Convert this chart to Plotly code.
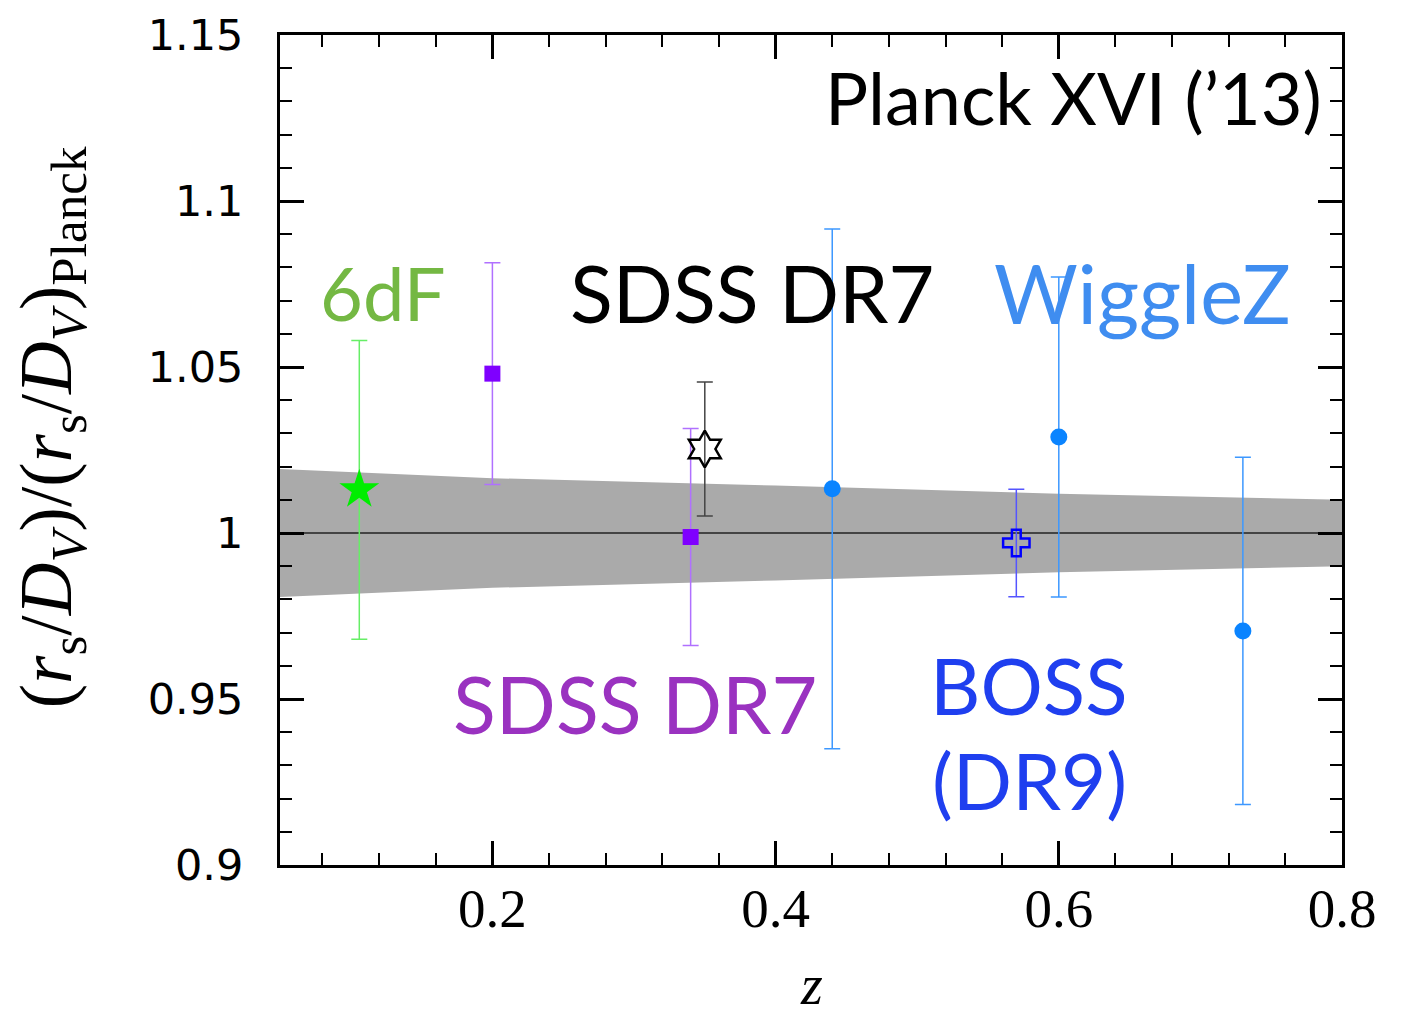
import plotly.graph_objects as go

# ---- data ----
band_z = [0.05, 0.2, 0.4, 0.6, 0.8]
band_err = [0.0193, 0.0165, 0.0143, 0.0118, 0.0100]

sixdf_z = [0.106]
sixdf_v = [1.013]
sixdf_e = [0.045]

sdss_z = [0.20, 0.34]
sdss_v = [1.048, 0.9988]
sdss_e = [0.0334, 0.0327]

sdssr_z = [0.35]
sdssr_v = [1.0253]
sdssr_e = [0.0202]

boss_z = [0.57]
boss_v = [0.997]
boss_e = [0.0162]

wig_z = [0.44, 0.60, 0.73]
wig_v = [1.0133, 1.0289, 0.9705]
wig_e = [0.0783, 0.0482, 0.0523]

x_ticks = [0.2, 0.4, 0.6, 0.8]
x_ticklabels = ["0.2", "0.4", "0.6", "0.8"]
y_ticks = [0.9, 0.95, 1.0, 1.05, 1.1, 1.15]
y_ticklabels = ["0.9", "0.95", "1", "1.05", "1.1", "1.15"]

fig = go.Figure()

# Planck band
upper = [1 + e for e in band_err]
lower = [1 - e for e in band_err]
fig.add_trace(go.Scatter(x=band_z + band_z[::-1], y=upper + lower[::-1],
                         fill="toself", fillcolor="#aaaaaa", line=dict(width=0),
                         mode="lines", hoverinfo="skip", showlegend=False))
fig.add_trace(go.Scatter(x=[0.05, 0.8], y=[1, 1], mode="lines",
                         line=dict(color="#222222", width=1.5), showlegend=False))

def pts(x, y, e, sym, size, col, ecol, lw=0):
    fig.add_trace(go.Scatter(
        x=x, y=y, mode="markers", showlegend=False,
        error_y=dict(type="data", array=e, color=ecol, thickness=1.5, width=8),
        marker=dict(symbol=sym, size=size, color=col,
                    line=dict(color=col, width=lw))))

pts(sixdf_z, sixdf_v, sixdf_e, "star", 30, "#00ee00", "#66ee66")
pts(sdss_z, sdss_v, sdss_e, "square", 16, "#7f00ff", "#b070ff")
pts(sdssr_z, sdssr_v, sdssr_e, "hexagram-open", 28, "#000000", "#444444", 2.5)
pts(boss_z, boss_v, boss_e, "cross-open", 22, "#0000ff", "#5555ff", 2.5)
pts(wig_z, wig_v, wig_e, "circle", 17, "#0a84ff", "#3d98ff")

tfont = "Lato"
def label(text, x, y, col, size=74, xanchor="center"):
    fig.add_annotation(x=x, y=y, text=text, showarrow=False, xanchor=xanchor,
                       yanchor="middle", font=dict(family=tfont, size=size, color=col))

label("Planck XVI (’13)", 0.787, 1.1312, "#000000", 72, "right")
label("6dF", 0.1227, 1.0725, "#74b843", 74)
label("SDSS DR7", 0.3833, 1.0725, "#000000", 79)
label("WiggleZ", 0.6588, 1.0725, "#3f8df0", 81)
label("SDSS DR7", 0.3007, 0.9485, "#9a32c0", 79)
label("BOSS", 0.579, 0.9542, "#1f3fef", 78)
label("(DR9)", 0.579, 0.9255, "#1f3fef", 78)

# y-axis title (drawn as rotated text left of the axis)
fig.add_annotation(xref="paper", yref="paper", x=-0.215, y=0.527,
                   text="(<i>r</i><sub>s</sub>/<i>D</i><sub><i>V</i></sub>)/(<i>r</i><sub>s</sub>/<i>D</i><sub><i>V</i></sub>)<sub>Planck</sub>",
                   textangle=-90, showarrow=False, xanchor="center", yanchor="middle",
                   font=dict(family="Liberation Serif", size=73, color="black"))
# x-axis title
fig.add_annotation(xref="paper", yref="paper", x=0.5, y=-0.1843,
                   text="<i>z</i>", showarrow=False, xanchor="center", yanchor="bottom",
                   font=dict(family="Liberation Serif", size=56, color="black"))

axcommon = dict(showline=True, linecolor="black", linewidth=3, mirror="allticks",
                ticks="inside", ticklen=24, tickwidth=2.5, tickcolor="black",
                showgrid=False, zeroline=False, automargin=False)

fig.update_xaxes(range=[0.05, 0.8], tickvals=x_ticks, ticktext=x_ticklabels,
                 tickfont=dict(family="Liberation Serif", size=55, color="black"),
                 ticklabelstandoff=-7,
                 minor=dict(dtick=0.04, tick0=0, ticks="inside", ticklen=12,
                            tickwidth=2, tickcolor="black"),
                 **axcommon)
fig.update_yaxes(range=[0.9, 1.15], tickvals=y_ticks, ticktext=y_ticklabels,
                 tickfont=dict(family="DejaVu Sans", size=43, color="black"),
                 ticklabelstandoff=25,
                 minor=dict(dtick=0.01, tick0=0.9, ticks="inside", ticklen=12,
                            tickwidth=2, tickcolor="black"),
                 **axcommon)

fig.update_layout(width=1403, height=1019, margin=dict(l=280, r=61, t=35, b=154),
                  paper_bgcolor="white", plot_bgcolor="white")

fig.write_html("out.html")
